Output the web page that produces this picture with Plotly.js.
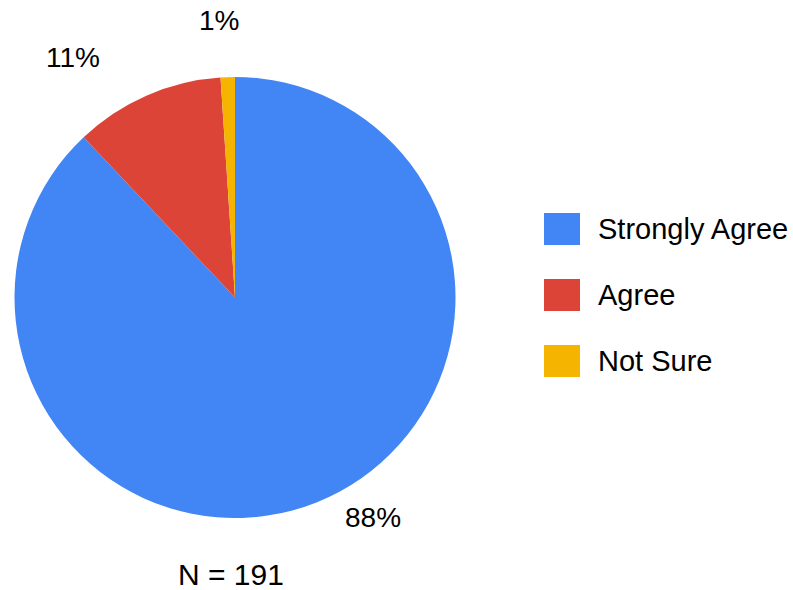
<!DOCTYPE html>
<html>
<head>
<meta charset="utf-8">
<script src="https://cdn.plot.ly/plotly-3.0.1.min.js"></script>
<style>html,body{margin:0;padding:0;background:#fff;}#chart{width:793px;height:590px;}</style>
</head>
<body>
<div id="chart"></div>
<script>
const labels = ['Strongly Agree', 'Agree', 'Not Sure'];
const counts = [168, 21, 2];
const colors = ['#4285F4', '#DB4437', '#F4B400'];
const sampleSize = 191;

const W = 793, H = 590;
const px = x => x / W;
const py = y => 1 - y / H;
const FONT = 'Liberation Sans, Arial, sans-serif';

const total = counts.reduce((a, b) => a + b, 0);
const pct = counts.map(v => Math.round(v / total * 100) + '%');

// label placements (layout only)
const labelPos = [[373, 517], [73, 57], [219, 21]];

const annotations = [];
const shapes = [];
pct.forEach((t, i) => {
  annotations.push({
    text: t, xref: 'paper', yref: 'paper',
    x: px(labelPos[i][0]), y: py(labelPos[i][1]),
    xanchor: 'center', yanchor: 'middle', showarrow: false,
    font: {family: FONT, size: 28, color: '#000'}
  });
});
// legend
labels.forEach((lab, i) => {
  const top = 213 + i * 66;
  shapes.push({
    type: 'rect', xref: 'paper', yref: 'paper',
    x0: px(544), x1: px(580), y0: py(top), y1: py(top + 32),
    fillcolor: colors[i], line: {width: 0}
  });
  annotations.push({
    text: lab, xref: 'paper', yref: 'paper',
    x: px(596), y: py(top + 16),
    xanchor: 'left', yanchor: 'middle', showarrow: false,
    font: {family: FONT, size: 29, color: '#000'}
  });
});
annotations.push({
  text: 'N = ' + sampleSize, xref: 'paper', yref: 'paper',
  x: px(231), y: py(574), xanchor: 'center', yanchor: 'middle', showarrow: false,
  font: {family: FONT, size: 30, color: '#000'}
});

const trace = {
  type: 'pie',
  labels: labels,
  values: counts,
  marker: {colors: colors, line: {color: '#ffffff', width: 0}},
  sort: false,
  direction: 'clockwise',
  rotation: 0,
  textinfo: 'none',
  hoverinfo: 'label+percent',
  showlegend: false,
  domain: {x: [px(14), px(456)], y: [py(518), py(77)]}
};

Plotly.newPlot('chart', [trace], {
  width: W, height: H,
  margin: {l: 0, r: 0, t: 0, b: 0},
  paper_bgcolor: '#fff',
  showlegend: false,
  annotations: annotations,
  shapes: shapes
}, {displayModeBar: false, staticPlot: true});
</script>
</body>
</html>
